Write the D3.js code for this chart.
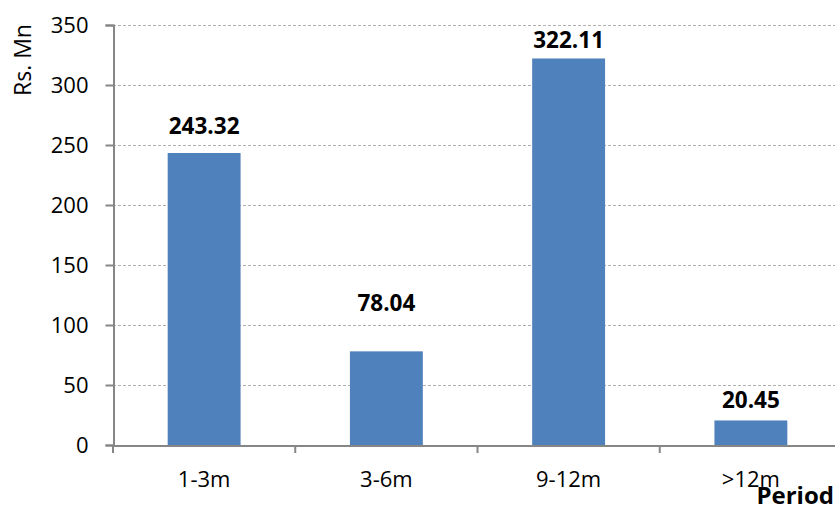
<!DOCTYPE html>
<html><head><meta charset="utf-8">
<script src="https://cdn.jsdelivr.net/npm/d3@7"></script>
<style>body{margin:0;background:#fff}svg{display:block}</style>
</head><body>
<script>
const categories = ["1-3m", "3-6m", "9-12m", ">12m"];
const values = [243.32, 78.04, 322.11, 20.45];
const valueLabels = ["243.32", "78.04", "322.11", "20.45"];
const yTicks = [0, 50, 100, 150, 200, 250, 300, 350];
const labelGap = [19, 40, 10.5, 12.5];

const W = 835, H = 514;
const m = {left: 113, right: 842, top: 25, bottom: 445};
const svg = d3.select("body").append("svg").attr("width", W).attr("height", H);
const font = "'Open Sans', Calibri, sans-serif";

const x = d3.scaleBand().domain(categories).range([m.left, m.right]).paddingInner(0.6).paddingOuter(0.3);
const xb = d3.scaleBand().domain(categories).range([m.left, m.right]);
const y = d3.scaleLinear().domain([0, 350]).range([m.bottom, m.top]);

// gridlines
svg.append("g").selectAll("line").data(yTicks.filter(d => d > 0)).join("line")
  .attr("x1", m.left).attr("x2", m.right)
  .attr("y1", d => y(d) + 0.5).attr("y2", d => y(d) + 0.5)
  .attr("stroke", "#b0b0b0").attr("stroke-width", 1).attr("stroke-dasharray", "3,2");

// bars
svg.append("g").selectAll("rect").data(values).join("rect")
  .attr("x", (d, i) => x(categories[i]))
  .attr("width", x.bandwidth())
  .attr("y", d => y(d))
  .attr("height", d => y(0) - y(d))
  .attr("fill", "#4f81bd");

// y axis
const yAxis = svg.append("g").attr("transform", `translate(${m.left + 0.5},0)`)
  .call(d3.axisLeft(y).tickValues(yTicks).tickSize(8).tickPadding(17));
yAxis.select(".domain").attr("stroke", "#868686").attr("stroke-width", 2);
yAxis.selectAll(".tick line").attr("stroke", "#868686").attr("stroke-width", 2);
yAxis.selectAll("text").attr("font-family", font).attr("font-size", 22).attr("fill", "#000");

// x axis
const xAxis = svg.append("g").attr("transform", `translate(0,${m.bottom + 0.5})`)
  .call(d3.axisBottom(xb).tickSize(0).tickPadding(26));
xAxis.select(".domain").attr("stroke", "#868686").attr("stroke-width", 2);
xAxis.selectAll("text").attr("font-family", font).attr("font-size", 22).attr("fill", "#000");
// category boundary ticks
const bounds = categories.map(c => xb(c)).concat([m.right]);
svg.append("g").selectAll("line").data(bounds).join("line")
  .attr("x1", d => d).attr("x2", d => d)
  .attr("y1", m.bottom).attr("y2", m.bottom + 8)
  .attr("stroke", "#868686").attr("stroke-width", 2);

// value labels
svg.append("g").selectAll("text").data(values).join("text")
  .attr("x", (d, i) => x(categories[i]) + x.bandwidth() / 2)
  .attr("y", (d, i) => y(d) - labelGap[i])
  .attr("text-anchor", "middle")
  .attr("font-family", font).attr("font-weight", "bold").attr("font-size", 22.5)
  .attr("fill", "#000")
  .text((d, i) => valueLabels[i]);

// axis titles
svg.append("text").attr("transform", "translate(31,60) rotate(-90)")
  .attr("text-anchor", "middle").attr("font-family", font).attr("font-size", 23)
  .text("Rs. Mn");
svg.append("text").attr("x", 834).attr("y", 504).attr("text-anchor", "end")
  .attr("font-family", font).attr("font-weight", "bold").attr("font-size", 24)
  .text("Period");
</script>
</body></html>
